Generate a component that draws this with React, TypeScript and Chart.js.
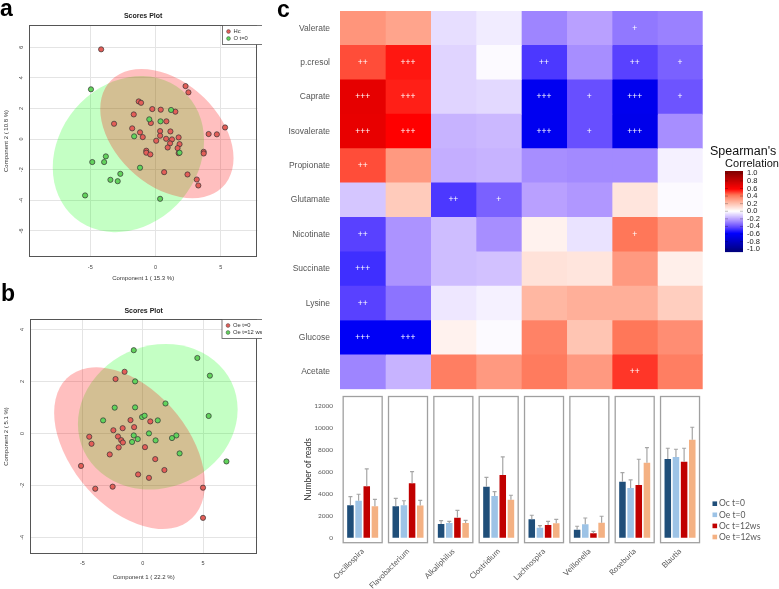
import React, { useEffect, useRef } from 'react';
import { Chart, registerables } from 'chart.js';
Chart.register(...registerables);

const FONT = '"Liberation Sans", Arial, sans-serif';
const FONT_C = 'Lato, "Open Sans", sans-serif';

// ---------------- Panel a (Scores plot, Hc vs O t=0) ----------------
const aHcPoints: number[][] = [
  [-4.17, 5.86], [2.30, 3.46], [2.52, 3.05], [-1.29, 2.46], [-1.11, 2.37], [-0.25, 1.96],
  [0.40, 1.92], [1.52, 1.79], [-1.67, 1.61], [0.83, 1.16], [-3.18, 1.0], [-0.36, 1.05],
  [-1.79, 0.70], [0.35, 0.52], [1.14, 0.50], [5.33, 0.76], [4.07, 0.33], [4.70, 0.31],
  [-1.19, 0.44], [-0.98, 0.13], [0.35, 0.22], [0.81, 0.02], [1.77, 0.11], [0.05, -0.11],
  [1.26, -0.02], [1.84, -0.33], [1.11, -0.28], [0.93, -0.55], [1.69, -0.59], [-0.71, -0.76],
  [-0.71, -0.89], [-0.40, -1.0], [1.77, -0.92], [3.69, -0.83], [3.69, -0.94], [0.66, -2.16],
  [2.45, -2.31], [3.16, -2.64], [3.28, -3.03],
];
const aOt0Points: number[][] = [
  [-4.95, 3.25], [1.19, 1.90], [-0.48, 1.29], [0.38, 1.16], [-1.64, 0.18], [1.84, -0.89],
  [-3.81, -1.13], [-3.94, -1.50], [-4.85, -1.50], [-1.19, -1.87], [-2.70, -2.27],
  [-3.46, -2.66], [-2.90, -2.75], [-5.40, -3.68], [0.35, -3.90],
];
const aHcEllipse = { cx: 0.87, cy: 0.36, sdx: 5.11, sdy: 4.22, r: -0.38 };
const aOt0Ellipse = { cx: -2.08, cy: -0.98, sdx: 5.8, sdy: 5.1, r: 0.17 };
const aLegend = ['Hc', 'O t=0'];
const aXTitle = 'Component 1 ( 15.3 %)';
const aYTitle = 'Component 2 ( 10.8 %)';

// ---------------- Panel b (Scores plot, Oe t=0 vs Oe t=12 ws) ----------------
const bOeT0Points: number[][] = [
  [-1.50, 2.37], [-2.25, 2.09], [-1.01, 0.51], [0.63, 0.46], [-0.71, 0.24], [-2.43, 0.12],
  [-1.66, 0.20], [-4.43, -0.13], [-2.05, -0.12], [-1.78, -0.26], [-1.64, -0.35], [-4.24, -0.40],
  [-1.99, -0.54], [0.19, -0.53], [-2.73, -0.81], [1.04, -0.99], [-5.11, -1.25], [-0.38, -1.58],
  [1.80, -1.41], [0.52, -1.71], [-3.93, -2.13], [-2.49, -2.05], [5.0, -2.09], [5.0, -3.25],
];
const bOeT12Points: number[][] = [
  [-0.74, 3.20], [4.53, 2.90], [5.57, 2.22], [-0.63, 2.0], [1.89, 1.15], [-2.32, 0.99],
  [-0.63, 1.0], [5.47, 0.67], [-0.05, 0.63], [0.16, 0.68], [-3.28, 0.50], [1.25, 0.50],
  [0.52, 0.0], [-0.74, -0.08], [-0.41, -0.22], [2.79, -0.08], [2.43, -0.18], [1.07, -0.27],
  [-0.88, -0.33], [3.06, -0.77], [6.94, -1.08],
];
const bOeT0Ellipse = { cx: -1.09, cy: -0.57, sdx: 6.25, sdy: 3.11, r: -0.44 };
const bOeT12Ellipse = { cx: 1.25, cy: 0.64, sdx: 6.62, sdy: 2.8, r: 0.1 };
const bLegend = ['Oe t=0', 'Oe t=12 ws'];
const bXTitle = 'Component 1 ( 22.2 %)';
const bYTitle = 'Component 2 ( 5.1 %)';

// ---------------- Panel c (heatmap) ----------------
const metabolites = ['Valerate', 'p.cresol', 'Caprate', 'Isovalerate', 'Propionate', 'Glutamate',
  'Nicotinate', 'Succinate', 'Lysine', 'Glucose', 'Acetate'];
const genera = ['Oscillospira', 'Flavobacterium', 'Alkaliphilus', 'Clostridium', 'Lachnospira',
  'Veillonella', 'Roseburia', 'Blautia'];

const corrValerate = [0.31, 0.27, -0.07, -0.04, -0.26, -0.2, -0.29, -0.27];
const corrPcresol = [0.45, 0.52, -0.09, -0.01, -0.43, -0.24, -0.41, -0.34];
const corrCaprate = [0.64, 0.51, -0.09, -0.08, -0.6, -0.38, -0.61, -0.37];
const corrIsovalerate = [0.63, 0.55, -0.16, -0.15, -0.6, -0.38, -0.62, -0.24];
const corrPropionate = [0.45, 0.3, -0.17, -0.16, -0.24, -0.25, -0.25, -0.03];
const corrGlutamate = [-0.12, 0.16, -0.43, -0.34, -0.2, -0.22, 0.08, -0.01];
const corrNicotinate = [-0.41, -0.23, -0.14, -0.24, 0.04, -0.06, 0.39, 0.3];
const corrSuccinate = [-0.45, -0.23, -0.14, -0.13, 0.09, 0.08, 0.3, 0.05];
const corrLysine = [-0.41, -0.3, -0.05, -0.03, 0.22, 0.24, 0.24, 0.15];
const corrGlucose = [-0.58, -0.58, 0.04, -0.01, 0.36, 0.18, 0.39, 0.33];
const corrAcetate = [-0.26, -0.16, 0.37, 0.3, 0.38, 0.3, 0.48, 0.37];

const sigValerate = ['', '', '', '', '', '', '+', ''];
const sigPcresol = ['++', '+++', '', '', '++', '', '++', '+'];
const sigCaprate = ['+++', '+++', '', '', '+++', '+', '+++', '+'];
const sigIsovalerate = ['+++', '+++', '', '', '+++', '+', '+++', ''];
const sigPropionate = ['++', '', '', '', '', '', '', ''];
const sigGlutamate = ['', '', '++', '+', '', '', '', ''];
const sigNicotinate = ['++', '', '', '', '', '', '+', ''];
const sigSuccinate = ['+++', '', '', '', '', '', '', ''];
const sigLysine = ['++', '', '', '', '', '', '', ''];
const sigGlucose = ['+++', '+++', '', '', '', '', '', ''];
const sigAcetate = ['', '', '', '', '', '', '++', ''];

const corrRows = [corrValerate, corrPcresol, corrCaprate, corrIsovalerate, corrPropionate,
  corrGlutamate, corrNicotinate, corrSuccinate, corrLysine, corrGlucose, corrAcetate];
const sigRows = [sigValerate, sigPcresol, sigCaprate, sigIsovalerate, sigPropionate,
  sigGlutamate, sigNicotinate, sigSuccinate, sigLysine, sigGlucose, sigAcetate];

const colorbarTicks = [1.0, 0.8, 0.6, 0.4, 0.2, 0.0, -0.2, -0.4, -0.6, -0.8, -1.0];

// ---------------- Panel c (bar chart) ----------------
const seriesNames = ['Oc t=0', 'Oe t=0', 'Oc t=12ws', 'Oe t=12ws'];
const ocT0Mean = [2950, 2860, 1250, 4640, 1670, 730, 5090, 7150];
const oeT0Mean = [3360, 2950, 1340, 3790, 910, 1220, 4520, 7340];
const ocT12Mean = [4670, 4950, 1820, 5700, 1150, 400, 4790, 6910];
const oeT12Mean = [2860, 2920, 1340, 3450, 1310, 1360, 6820, 8910];
const ocT0Upper = [3730, 3580, 1550, 5490, 2040, 1040, 5910, 8130];
const oeT0Upper = [3950, 3360, 1490, 4180, 1090, 1790, 5250, 8040];
const ocT12Upper = [6250, 6000, 2490, 7340, 1490, 580, 7130, 8130];
const oeT12Upper = [3490, 3400, 1570, 3860, 1670, 1950, 8180, 10040];
const barYTicks = [0, 2000, 4000, 6000, 8000, 10000, 12000];

// ---------------- helpers ----------------
const colorStops: [number, number[]][] = [
  [-1, [0, 0, 125]], [-0.55, [0, 0, 255]], [-0.4, [95, 70, 255]], [-0.2, [185, 160, 255]],
  [0, [255, 255, 255]], [0.2, [255, 190, 170]], [0.4, [255, 115, 85]], [0.55, [255, 0, 0]],
  [1, [128, 0, 0]],
];
function corrColor(v: number): string {
  const c = Math.max(-1, Math.min(1, v));
  for (let i = 0; i < colorStops.length - 1; i++) {
    const [v0, c0] = colorStops[i];
    const [v1, c1] = colorStops[i + 1];
    if (c >= v0 && c <= v1) {
      const t = (c - v0) / (v1 - v0);
      const rgb = c0.map((k, j) => Math.round(k + (c1[j] - k) * t));
      return `rgb(${rgb[0]},${rgb[1]},${rgb[2]})`;
    }
  }
  return '#fff';
}

function useChart(factory: () => any) {
  const ref = useRef<HTMLCanvasElement>(null);
  useEffect(() => {
    const chart = new Chart(ref.current as HTMLCanvasElement, factory());
    return () => chart.destroy();
  }, []);
  return ref;
}

const fixW = (w: number) => (s: any) => {
  s.width = w; s.paddingTop = 0; s.paddingBottom = 0; s.paddingLeft = 0; s.paddingRight = 0;
};
const fixH = (h: number) => (s: any) => {
  s.height = h; s.paddingTop = 0; s.paddingBottom = 0; s.paddingLeft = 0; s.paddingRight = 0;
};

const RED_PT = '#e35e58';
const GREEN_PT = '#62d35c';
const RED_FILL = 'rgba(255,0,0,0.25)';
const GREEN_FILL = 'rgba(0,255,0,0.23)';

interface ScoresSpec {
  red: number[][]; green: number[][];
  redEllipse: any; greenEllipse: any;
  legend: string[]; xTitle: string; yTitle: string;
  xMin: number; xMax: number; yMin: number; yMax: number;
  padTop: number; xAxisH: number; yAxisW: number; titleY: number;
  legendX: number; xTitlePad: number; xTickPad: number;
}

function scoresConfig(p: ScoresSpec) {
  const tickFont = { size: 5.5, family: FONT };
  return {
    type: 'scatter',
    data: {
      datasets: [
        { label: p.legend[1], data: p.green.map(([x, y]) => ({ x, y })), backgroundColor: GREEN_PT,
          borderColor: '#333', borderWidth: 0.7, pointRadius: 2.6 },
        { label: p.legend[0], data: p.red.map(([x, y]) => ({ x, y })), backgroundColor: RED_PT,
          borderColor: '#333', borderWidth: 0.7, pointRadius: 2.6 },
      ],
    },
    options: {
      responsive: false,
      animation: false,
      layout: { padding: { top: p.padTop, right: 2, left: 0, bottom: 0 } },
      plugins: { legend: { display: false }, tooltip: { enabled: false } },
      scales: {
        x: {
          type: 'linear', min: p.xMin, max: p.xMax,
          afterFit: fixH(p.xAxisH),
          grid: { color: '#e4e4e4', drawTicks: false },
          border: { display: false },
          ticks: { stepSize: 5, includeBounds: false, font: tickFont, color: '#444', padding: p.xTickPad },
          title: { display: true, text: p.xTitle, font: { size: 6, family: FONT }, color: '#333',
            padding: { top: 0, bottom: p.xTitlePad } },
        },
        y: {
          type: 'linear', min: p.yMin, max: p.yMax,
          afterFit: fixW(p.yAxisW),
          grid: { color: '#e4e4e4', drawTicks: false },
          border: { display: false },
          ticks: { stepSize: 2, includeBounds: false, font: tickFont, color: '#444', padding: 5,
            minRotation: 90, maxRotation: 90, crossAlign: 'center' },
          title: { display: true, text: p.yTitle, font: { size: 6, family: FONT }, color: '#333',
            padding: { top: 3, bottom: 0 } },
        },
      },
    },
    plugins: [
      {
        id: 'ellipses',
        beforeDatasetsDraw(chart: any) {
          const { ctx, chartArea: ca, scales: { x, y } } = chart;
          ctx.save();
          ctx.beginPath();
          ctx.rect(ca.left, ca.top, ca.right - ca.left, ca.bottom - ca.top);
          ctx.clip();
          const list = [{ e: p.greenEllipse, c: GREEN_FILL }, { e: p.redEllipse, c: RED_FILL }];
          for (const { e, c } of list) {
            const px = x.getPixelForValue(e.cx);
            const py = y.getPixelForValue(e.cy);
            const kx = x.getPixelForValue(e.cx + 1) - px;
            const ky = y.getPixelForValue(e.cy + 1) - py;
            ctx.save();
            ctx.transform(kx * e.sdx, ky * e.r * e.sdy, 0, ky * e.sdy * Math.sqrt(1 - e.r * e.r), px, py);
            ctx.beginPath();
            ctx.arc(0, 0, 1, 0, Math.PI * 2);
            ctx.restore();
            ctx.fillStyle = c;
            ctx.fill();
          }
          ctx.restore();
        },
      },
      {
        id: 'frame',
        afterDraw(chart: any) {
          const { ctx, chartArea: ca } = chart;
          ctx.save();
          ctx.strokeStyle = '#555';
          ctx.lineWidth = 1;
          ctx.strokeRect(Math.round(ca.left) + 0.5, Math.round(ca.top) + 0.5,
            Math.round(ca.right - ca.left) - 1, Math.round(ca.bottom - ca.top) - 1);
          ctx.fillStyle = '#222';
          ctx.font = `bold 7px ${FONT}`;
          ctx.textAlign = 'center';
          ctx.textBaseline = 'middle';
          ctx.fillText('Scores Plot', (ca.left + ca.right) / 2, p.titleY);
          // legend box
          const lx = p.legendX;
          const ly = Math.round(ca.top) + 0.5;
          ctx.fillStyle = '#fff';
          ctx.fillRect(lx, ly, 60, 19);
          ctx.strokeStyle = '#555';
          ctx.lineWidth = 0.8;
          ctx.strokeRect(lx, ly, 60, 19);
          const cols = [RED_PT, GREEN_PT];
          ctx.font = `5.8px ${FONT}`;
          ctx.textAlign = 'left';
          for (let i = 0; i < 2; i++) {
            const yy = ly + 6 + i * 7;
            ctx.beginPath();
            ctx.arc(lx + 6, yy, 1.9, 0, Math.PI * 2);
            ctx.fillStyle = cols[i];
            ctx.fill();
            ctx.strokeStyle = '#444';
            ctx.lineWidth = 0.5;
            ctx.stroke();
            ctx.fillStyle = '#333';
            ctx.fillText(p.legend[i], lx + 11, yy);
          }
          ctx.restore();
        },
      },
    ],
  };
}

function heatmapConfig() {
  return {
    type: 'bar',
    data: {
      labels: metabolites,
      datasets: genera.map((g, j) => ({
        label: g,
        data: metabolites.map(() => [j, j + 1]),
        backgroundColor: corrRows.map((row) => corrColor(row[j])),
        borderWidth: 0,
        barPercentage: 1,
        categoryPercentage: 1,
        grouped: false,
      })),
    },
    options: {
      indexAxis: 'y',
      responsive: false,
      animation: false,
      layout: { padding: { top: 11, right: 76.3, left: 0, bottom: 2.7 } },
      plugins: { legend: { display: false }, tooltip: { enabled: false } },
      scales: {
        x: { type: 'linear', min: 0, max: genera.length, display: false },
        y: {
          afterFit: fixW(78),
          grid: { display: false, drawTicks: false },
          border: { display: false },
          ticks: { font: { size: 8.5, family: FONT }, color: '#555', padding: 10 },
        },
      },
    },
    plugins: [
      {
        id: 'signif',
        afterDatasetsDraw(chart: any) {
          const { ctx } = chart;
          ctx.save();
          ctx.fillStyle = '#fff';
          ctx.font = `8.5px ${FONT}`;
          ctx.textAlign = 'center';
          ctx.textBaseline = 'middle';
          genera.forEach((g, j) => {
            const meta = chart.getDatasetMeta(j);
            meta.data.forEach((el: any, i: number) => {
              const s = sigRows[i][j];
              if (s) ctx.fillText(s, (el.x + el.base) / 2, el.y);
            });
          });
          ctx.restore();
        },
      },
      {
        id: 'colorbar',
        afterDraw(chart: any) {
          const { ctx } = chart;
          const x0 = 463, w = 18, top = 171, bot = 251.5;
          ctx.save();
          const n = 160;
          for (let k = 0; k < n; k++) {
            const v = 1 - (2 * (k + 0.5)) / n;
            ctx.fillStyle = corrColor(v);
            ctx.fillRect(x0, top + ((bot - top) * k) / n, w, (bot - top) / n + 0.6);
          }
          ctx.font = `7.5px ${FONT}`;
          ctx.textAlign = 'left';
          ctx.textBaseline = 'middle';
          colorbarTicks.forEach((t) => {
            const yy = top + 2.3 + ((1 - t) / 2) * (bot - top - 4.6);
            ctx.fillStyle = '#222';
            ctx.fillText(t.toFixed(1), x0 + w + 4, yy);
            ctx.strokeStyle = 'rgba(0,0,0,0.35)';
            ctx.lineWidth = 0.7;
            ctx.beginPath();
            ctx.moveTo(x0, yy); ctx.lineTo(x0 + 3, yy);
            ctx.moveTo(x0 + w - 3, yy); ctx.lineTo(x0 + w, yy);
            ctx.stroke();
          });
          ctx.fillStyle = '#111';
          ctx.font = `12.5px ${FONT}`;
          ctx.textAlign = 'left';
          ctx.fillText("Spearman's", 448, 152);
          ctx.font = `11px ${FONT}`;
          ctx.textAlign = 'center';
          ctx.fillText('Correlation', 490, 164);
          ctx.restore();
        },
      },
    ],
  };
}

const barColors = ['#1f4e79', '#9dc3e6', '#c00000', '#f4b183'];

function barConfig() {
  const means = [ocT0Mean, oeT0Mean, ocT12Mean, oeT12Mean];
  const uppers = [ocT0Upper, oeT0Upper, ocT12Upper, oeT12Upper];
  return {
    type: 'bar',
    data: {
      labels: genera,
      datasets: seriesNames.map((name, k) => ({
        label: name,
        data: means[k],
        backgroundColor: barColors[k],
        categoryPercentage: 0.72,
        barPercentage: 0.8,
        borderWidth: 0,
      })),
    },
    options: {
      responsive: false,
      animation: false,
      layout: { padding: { top: 4, right: 76.3, left: 0, bottom: 0 } },
      plugins: { legend: { display: false }, tooltip: { enabled: false } },
      scales: {
        x: {
          afterFit: fixH(46.3),
          grid: { display: false, drawTicks: false },
          border: { display: false },
          ticks: { minRotation: 45, maxRotation: 45, font: { size: 7.8, family: FONT_C }, color: '#595959', padding: 4 },
        },
        y: {
          min: -455, max: 12880,
          afterFit: fixW(78),
          afterBuildTicks: (s: any) => { s.ticks = barYTicks.map((v) => ({ value: v })); },
          grid: { display: false, drawTicks: false },
          border: { display: false },
          ticks: { font: { size: 6.5, family: FONT_C }, color: '#595959', padding: 7,
            callback: (v: number) => String(v) },
          title: { display: true, text: 'Number of reads', font: { size: 8.5, family: FONT_C }, color: '#333',
            padding: { top: 41, bottom: 0 } },
        },
      },
    },
    plugins: [
      {
        id: 'boxes',
        afterDatasetsDraw(chart: any) {
          const { ctx, chartArea: ca, scales: { x, y } } = chart;
          ctx.save();
          // error bars
          ctx.strokeStyle = '#a6a6a6';
          ctx.lineWidth = 1.2;
          uppers.forEach((up, k) => {
            const meta = chart.getDatasetMeta(k);
            meta.data.forEach((el: any, i: number) => {
              const yt = y.getPixelForValue(up[i]);
              ctx.beginPath();
              ctx.moveTo(el.x, el.y);
              ctx.lineTo(el.x, yt);
              ctx.moveTo(el.x - 2, yt);
              ctx.lineTo(el.x + 2, yt);
              ctx.stroke();
            });
          });
          // group boxes
          const step = x.getPixelForValue(1) - x.getPixelForValue(0);
          ctx.strokeStyle = '#a0a0a0';
          ctx.lineWidth = 1.3;
          genera.forEach((g, i) => {
            const cx = x.getPixelForValue(i);
            const hw = step * 0.43;
            ctx.strokeRect(cx - hw, ca.top + 0.5, hw * 2, ca.bottom - ca.top - 0.5);
          });
          // legend
          ctx.font = `8.5px ${FONT_C}`;
          ctx.textAlign = 'left';
          ctx.textBaseline = 'middle';
          seriesNames.forEach((n, k) => {
            const yy = 111.7 + k * 11.1;
            ctx.fillStyle = barColors[k];
            ctx.fillRect(450.5, yy - 2.3, 4.6, 4.6);
            ctx.fillStyle = '#595959';
            ctx.fillText(n, 457, yy);
          });
          ctx.restore();
        },
      },
    ],
  };
}

const panelA: ScoresSpec = {
  red: aHcPoints, green: aOt0Points, redEllipse: aHcEllipse, greenEllipse: aOt0Ellipse,
  legend: aLegend, xTitle: aXTitle, yTitle: aYTitle,
  xMin: -9.7, xMax: 7.8, yMin: -7.7, yMax: 7.45,
  padTop: 25, xAxisH: 28, yAxisW: 29, titleY: 16, legendX: 222.5, xTitlePad: 3.5, xTickPad: 7,
};
const panelB: ScoresSpec = {
  red: bOeT0Points, green: bOeT12Points, redEllipse: bOeT0Ellipse, greenEllipse: bOeT12Ellipse,
  legend: bLegend, xTitle: bXTitle, yTitle: bYTitle,
  xMin: -9.34, xMax: 9.5, yMin: -4.64, yMax: 4.4,
  padTop: 34, xAxisH: 35, yAxisW: 30, titleY: 26, legendX: 222, xTitlePad: 8.5, xTickPad: 6,
};

const letterStyle = (left: number, top: number): React.CSSProperties => ({
  position: 'absolute', left, top, font: `bold 23px ${FONT}`, lineHeight: '24px', color: '#000',
});

export default function App() {
  const aRef = useChart(() => scoresConfig(panelA));
  const bRef = useChart(() => scoresConfig(panelB));
  const hRef = useChart(() => heatmapConfig());
  const cRef = useChart(() => barConfig());
  return (
    <div style={{ position: 'absolute', left: 0, top: 0, width: 779, height: 589, background: '#fff', overflow: 'hidden' }}>
      <canvas ref={aRef} width={262} height={285} style={{ position: 'absolute', left: 0, top: 0 }} />
      <canvas ref={bRef} width={262} height={304} style={{ position: 'absolute', left: 0, top: 285 }} />
      <canvas ref={hRef} width={517} height={392} style={{ position: 'absolute', left: 262, top: 0 }} />
      <canvas ref={cRef} width={517} height={197} style={{ position: 'absolute', left: 262, top: 392 }} />
      <div style={letterStyle(0, -4)}>a</div>
      <div style={letterStyle(1, 281)}>b</div>
      <div style={letterStyle(277, -3)}>c</div>
    </div>
  );
}
